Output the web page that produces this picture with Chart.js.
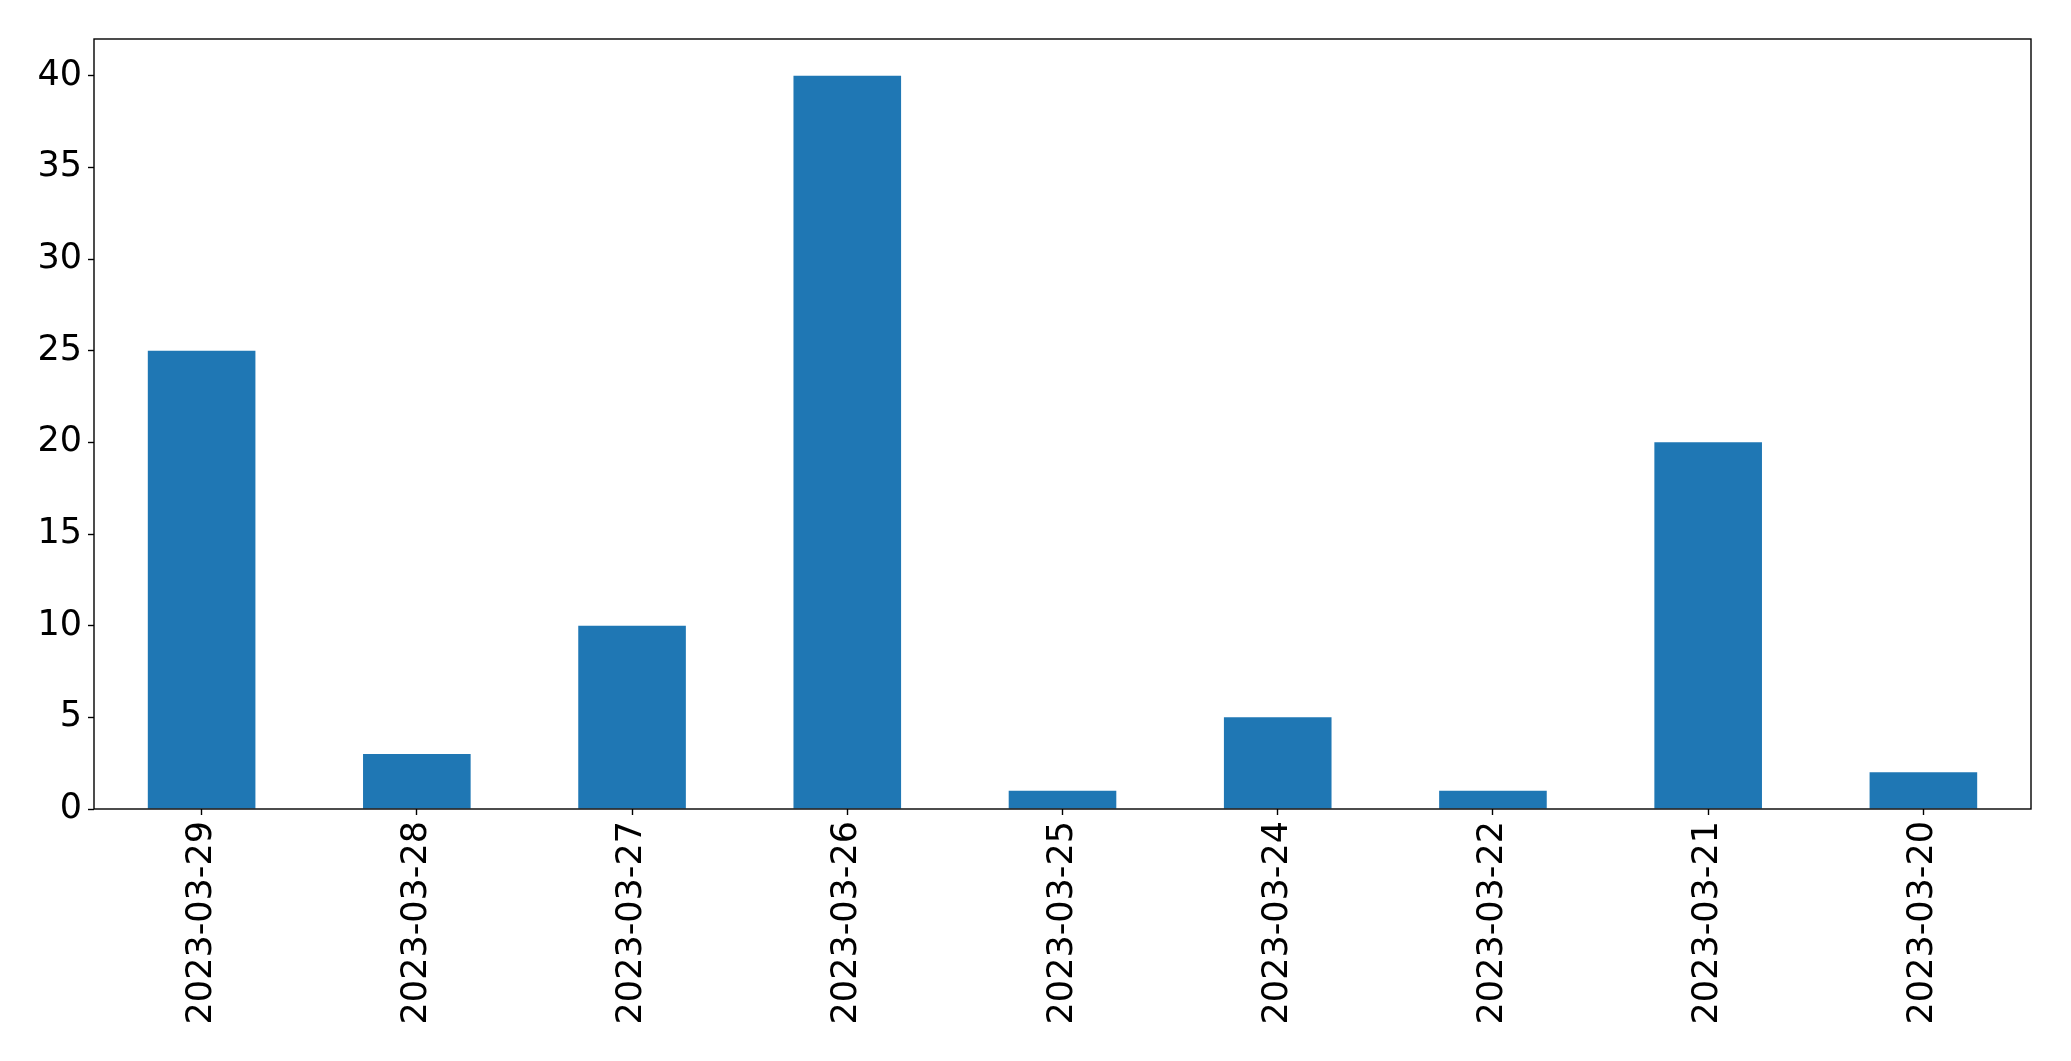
<!DOCTYPE html>
<html lang="en">
    <head>
        <meta charset="UTF-8" />
        <title>Chart</title>
        <script src="https://cdn.jsdelivr.net/npm/chart.js@4.4.0/dist/chart.umd.min.js"></script>
        <style>
            html, body { margin: 0; padding: 0; background: #fff; }
            #board { width: 2071px; height: 1061px; }
        </style>
    </head>
    <body>
        <div id="board">
            <canvas id="chart1" width="2071" height="1061"></canvas>
        </div>
        <script>
            const dates = ['2023-03-29', '2023-03-28', '2023-03-27', '2023-03-26', '2023-03-25',
                           '2023-03-24', '2023-03-22', '2023-03-21', '2023-03-20'];
            const counts = [25, 3, 10, 40, 1, 5, 1, 20, 2];
            const yTicks = [0, 5, 10, 15, 20, 25, 30, 35, 40];

            // draws the black frame round the plot area
            const frame = {
                id: 'frame',
                afterDraw(chart) {
                    const a = chart.chartArea;
                    const c = chart.ctx;
                    c.save();
                    c.strokeStyle = '#000';
                    c.lineWidth = 1.4;
                    c.strokeRect(a.left, a.top, a.right - a.left, a.bottom - a.top);
                    c.restore();
                }
            };

            const font = { family: 'DejaVu Sans', size: 35 };

            new Chart(document.getElementById('chart1'), {
                type: 'bar',
                data: {
                    labels: dates,
                    datasets: [{
                        data: counts,
                        backgroundColor: '#1f77b4',
                        categoryPercentage: 1,
                        barPercentage: 0.5,
                    }]
                },
                options: {
                    responsive: false,
                    animation: false,
                    layout: { padding: { top: 39, right: 40, left: 0, bottom: 0 } },
                    plugins: { legend: { display: false }, tooltip: { enabled: false } },
                    scales: {
                        x: {
                            grid: { display: true, offset: false, drawOnChartArea: false, tickLength: 6, color: '#000', tickWidth: 1.4 },
                            border: { display: false },
                            ticks: { color: '#000', font: font, minRotation: 90, maxRotation: 90, padding: 6, autoSkip: false },
                            afterFit(s) { s.height = 252; }
                        },
                        y: {
                            min: 0,
                            max: 42,
                            afterBuildTicks(s) { s.ticks = yTicks.map(v => ({ value: v })); },
                            grid: { display: true, drawOnChartArea: false, tickLength: 6, color: '#000', tickWidth: 1.4 },
                            border: { display: false },
                            ticks: { color: '#000', font: font, padding: 6 },
                            afterFit(s) { s.width = 94; }
                        }
                    }
                },
                plugins: [frame]
            });
        </script>
    </body>
</html>
